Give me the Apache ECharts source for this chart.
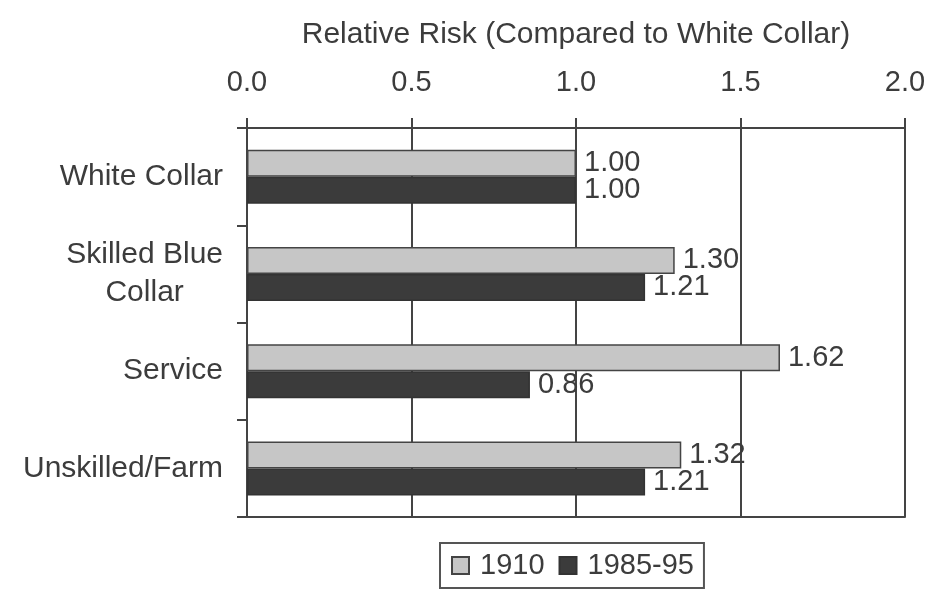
<!DOCTYPE html>
<html>
<head>
<meta charset="utf-8">
<script src="https://cdn.jsdelivr.net/npm/echarts@6/dist/echarts.min.js"></script>
<style>
  html, body { margin: 0; padding: 0; background: #fff; }
  #chart { width: 946px; height: 597px; }
</style>
</head>
<body>
<div id="chart"></div>
<script>
// occupational groups, top to bottom
const categories = ['White Collar', 'Skilled Blue\nCollar', 'Service', 'Unskilled/Farm']
const risk1910 = [1.00, 1.30, 1.62, 1.32]
const risk1985 = [1.00, 1.21, 0.86, 1.21]
const xTicks = [0, 0.5, 1.0, 1.5, 2.0]

const FONT = 'Liberation Sans'
const INK = '#3c3c3c'

const chart = echarts.init(document.getElementById('chart'))

const barLabel = {
  show: true,
  position: 'right',
  distance: 8,
  fontFamily: FONT,
  fontSize: 29,
  color: INK,
  formatter: p => p.value.toFixed(2)
}

let option = {
  animation: false,
  grid: { left: 247, right: 41, top: 128, bottom: 80 },
  legend: {
    data: ['1910', '1985-95'],
    left: 440,
    top: 543,
    itemWidth: 17,
    itemHeight: 17,
    itemGap: 14,
    padding: [8, 10, 8, 11],
    borderColor: '#555',
    borderWidth: 2,
    icon: 'rect',
    textStyle: { fontFamily: FONT, fontSize: 29, color: INK, padding: [0, 0, 0, 6] }
  },
  xAxis: [
    {
      type: 'value',
      position: 'top',
      min: xTicks[0],
      max: xTicks[xTicks.length - 1],
      interval: 0.5,
      name: 'Relative Risk (Compared to White Collar)',
      nameLocation: 'middle',
      nameGap: 78,
      nameTextStyle: { fontFamily: FONT, fontSize: 30, color: INK },
      axisLine: { show: true, lineStyle: { color: '#444', width: 2 } },
      axisTick: { show: true, length: 10, lineStyle: { color: '#444', width: 2 } },
      axisLabel: {
        margin: 31,
        fontFamily: FONT,
        fontSize: 29,
        color: INK,
        formatter: v => v.toFixed(1)
      },
      splitLine: { show: true, lineStyle: { color: '#444', width: 2 } }
    },
    {
      type: 'value',
      position: 'bottom',
      min: xTicks[0],
      max: xTicks[xTicks.length - 1],
      axisLine: { show: true, lineStyle: { color: '#444', width: 2 } },
      axisTick: { show: false },
      axisLabel: { show: false },
      splitLine: { show: false }
    }
  ],
  yAxis: {
    type: 'category',
    data: categories,
    inverse: true,
    axisLine: { show: true, lineStyle: { color: '#444', width: 2 } },
    axisTick: { show: true, length: 10, lineStyle: { color: '#444', width: 2 } },
    axisLabel: {
      margin: 24,
      fontFamily: FONT,
      fontSize: 30,
      lineHeight: 38,
      color: INK,
      formatter: v => v.indexOf('\n') < 0 ? v :
        v.split('\n').map(s => '{c|' + s + '}').join('\n'),
      rich: {
        c: { align: 'center', fontFamily: FONT, fontSize: 30, lineHeight: 38, color: INK }
      }
    }
  },
  series: [
    {
      name: '1910',
      type: 'bar',
      data: risk1910,
      barWidth: 27,
      barGap: '0%',
      itemStyle: { color: '#c6c6c6', borderColor: '#444', borderWidth: 1.5 },
      label: barLabel
    },
    {
      name: '1985-95',
      type: 'bar',
      data: risk1985,
      barWidth: 27,
      barGap: '0%',
      itemStyle: { color: '#3b3b3b', borderColor: '#333', borderWidth: 1.5 },
      label: barLabel
    }
  ]
}
chart.setOption(option)
</script>
</body>
</html>
